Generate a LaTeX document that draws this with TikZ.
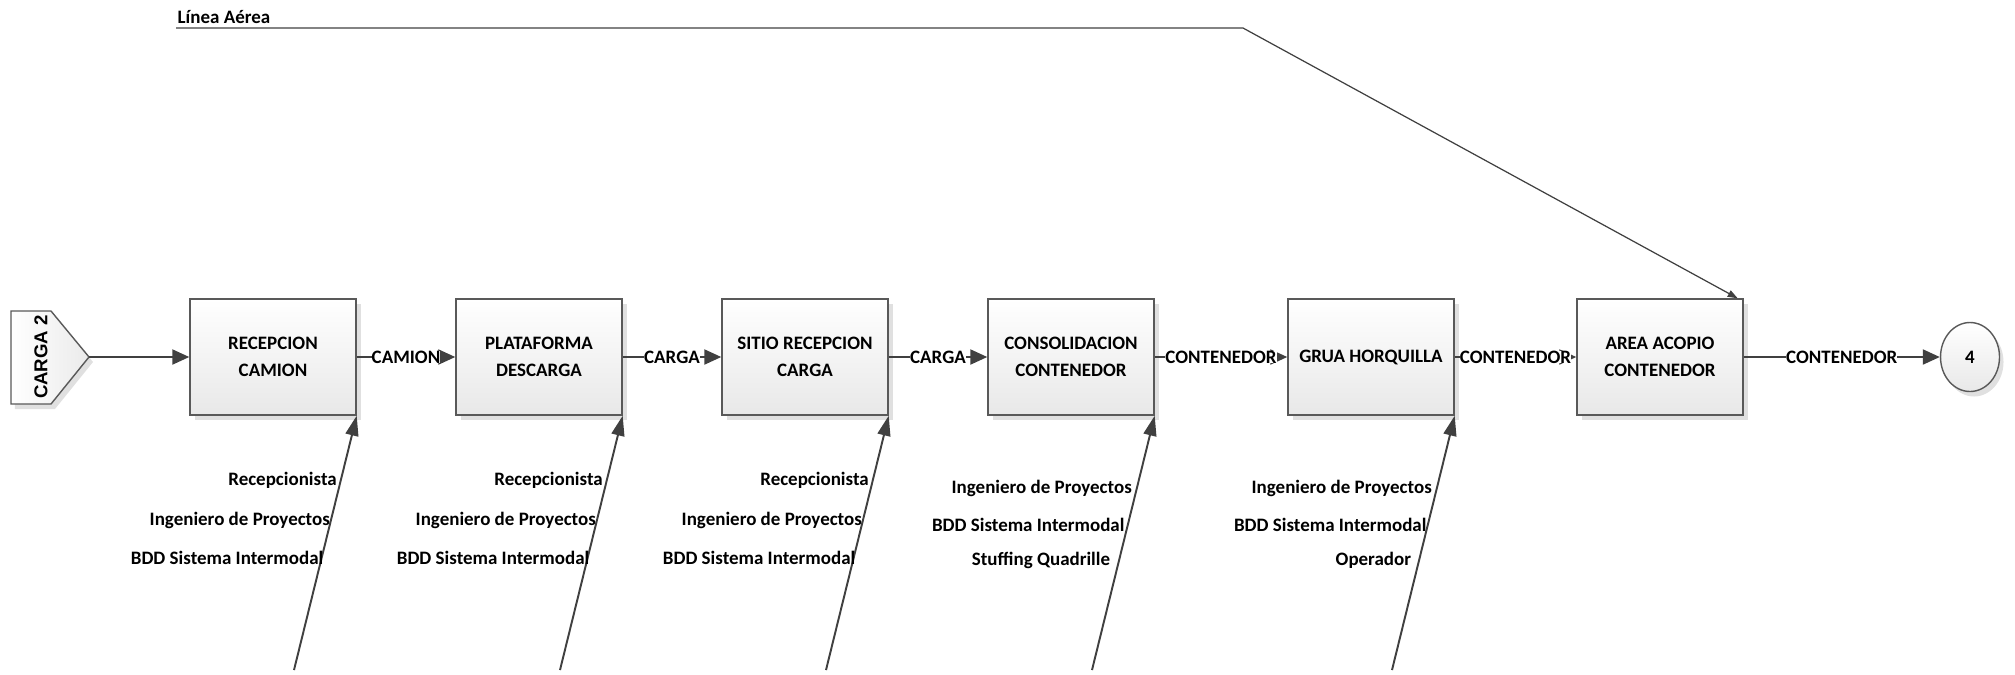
\documentclass[tikz,border=0pt]{standalone}
\usepackage{fontspec}
\setmainfont{Carlito}
\newfontfamily\arialfont{Liberation Sans}
\usetikzlibrary{arrows.meta,shadows,shapes.geometric}

\begin{document}
\begin{tikzpicture}[
    font=\bfseries\fontsize{5.4}{7.7}\selectfont,
    proc/.style={draw=black!65,line width=0.4pt,top color=white,bottom color=black!9,
      general shadow={fill=black!12,shadow xshift=0.045cm,shadow yshift=-0.05cm},
      minimum width=1.66cm,minimum height=1.16cm,align=center,inner sep=0pt},
    term/.style={ellipse,draw=black!65,line width=0.4pt,top color=white,bottom color=black!9,
      general shadow={fill=black!12,shadow xshift=0.04cm,shadow yshift=-0.05cm},
      minimum width=0.59cm,minimum height=0.69cm,inner sep=0pt},
    flow/.style={draw=black!75,line width=0.6pt,-{Triangle[length=0.17cm,width=0.15cm]}},
    mech/.style={draw=black!75,line width=0.55pt,-{Triangle[length=0.2cm,width=0.13cm]}},
    air/.style={draw=black!75,line width=0.35pt,-{Triangle[length=0.1cm,width=0.07cm]}},
    lbl/.style={fill=white,inner sep=0pt,pos=0.5},
    res/.style={anchor=east,inner sep=0pt,text height=0.14cm,text depth=0.04cm}]
    \useasboundingbox (0,0) rectangle (20.15,6.74);

    \draw[draw=black!65,line width=0.4pt,left color=white,right color=black!8,
      general shadow={fill=black!12,shadow xshift=0.04cm,shadow yshift=-0.05cm}]
      (0.11,2.70) -- (0.51,2.70) -- (0.89,3.17) -- (0.51,3.63) -- (0.11,3.63) -- cycle;
    \node[rotate=90,font=\arialfont\bfseries\fontsize{5.3}{6}\selectfont] (src) at (0.41,3.17) {CARGA 2};
    \coordinate (srctip) at (0.89,3.17);

    \node[proc] (p1) at (2.73,3.17)  {RECEPCION\\CAMION};
    \node[proc] (p2) at (5.39,3.17)  {PLATAFORMA\\DESCARGA};
    \node[proc] (p3) at (8.05,3.17)  {SITIO RECEPCION\\CARGA};
    \node[proc] (p4) at (10.71,3.17) {CONSOLIDACION\\CONTENEDOR};
    \node[proc] (p5) at (13.71,3.17) {GRUA HORQUILLA};
    \node[proc] (p6) at (16.60,3.17) {AREA ACOPIO\\CONTENEDOR};
    \node[term] (fin) at (19.70,3.17) {4};

    \draw[flow] (srctip) -- (p1);
    \draw[flow] (p1) -- (p2) node[lbl] {CAMION};
    \draw[flow] (p2) -- (p3) node[lbl] {CARGA};
    \draw[flow] (p3) -- (p4) node[lbl] {CARGA};
    \draw[flow] (p4) -- (p5) node[lbl] {CONTENEDOR};
    \draw[flow] (p5) -- (p6) node[lbl] {CONTENEDOR};
    \draw[flow] (p6) -- (fin) node[lbl] {CONTENEDOR};

    \coordinate (la) at (1.76,6.46);
    \coordinate (lb) at (12.43,6.46);
    \node[anchor=south west,inner sep=0pt] (aerea) at (1.77,6.50) {Línea Aérea};
    \draw[air] (la) -- (lb) -- ([xshift=-0.06cm]p6.north east);

    \coordinate (m1) at (2.94,0.04);
    \coordinate (m2) at (5.60,0.04);
    \coordinate (m3) at (8.26,0.04);
    \coordinate (m4) at (10.92,0.04);
    \coordinate (m5) at (13.92,0.04);

    \draw[mech] (m1) -- (p1.south east)
      node[res,pos=0.745,xshift=-0.03cm] {Recepcionista}
      node[res,pos=0.588] {Ingeniero de Proyectos}
      node[res,pos=0.435,xshift=0.03cm] {BDD Sistema Intermodal};
    \draw[mech] (m2) -- (p2.south east)
      node[res,pos=0.745,xshift=-0.03cm] {Recepcionista}
      node[res,pos=0.588] {Ingeniero de Proyectos}
      node[res,pos=0.435,xshift=0.03cm] {BDD Sistema Intermodal};
    \draw[mech] (m3) -- (p3.south east)
      node[res,pos=0.745,xshift=-0.03cm] {Recepcionista}
      node[res,pos=0.588] {Ingeniero de Proyectos}
      node[res,pos=0.435,xshift=0.03cm] {BDD Sistema Intermodal};
    \draw[mech] (m4) -- (p4.south east)
      node[res,pos=0.714,xshift=-0.04cm] {Ingeniero de Proyectos}
      node[res,pos=0.565,xshift=-0.02cm] {BDD Sistema Intermodal}
      node[res,pos=0.431,xshift=-0.08cm] {Stuffing Quadrille};
    \draw[mech] (m5) -- (p5.south east)
      node[res,pos=0.714,xshift=-0.04cm] {Ingeniero de Proyectos}
      node[res,pos=0.565] {BDD Sistema Intermodal}
      node[res,pos=0.431,xshift=-0.07cm] {Operador};
\end{tikzpicture}
\end{document}
